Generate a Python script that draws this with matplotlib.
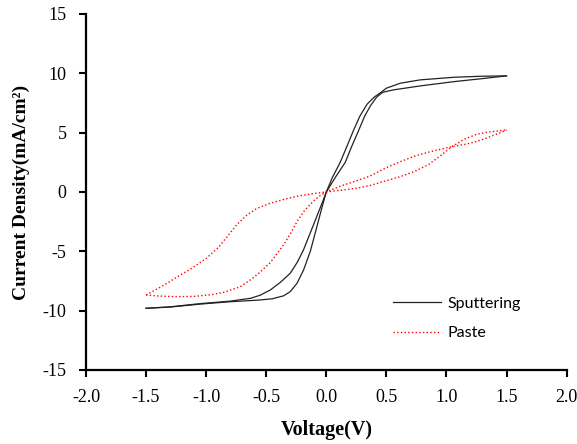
import matplotlib
matplotlib.use("Agg")
import matplotlib.pyplot as plt

# Sputtering loop, steep branch: lower negative side -> origin -> upper plateau
sput_v_a = [-1.5, -1.3, -1.05, -0.8, -0.63, -0.55, -0.45, -0.355, -0.3, -0.244,
            -0.19, -0.133, -0.08, -0.036, 0.0, 0.05, 0.116, 0.17, 0.227, 0.28,
            0.34, 0.4, 0.45, 0.5, 0.616, 0.78, 1.06, 1.3, 1.5]
sput_j_a = [-9.8, -9.7, -9.45, -9.25, -9.15, -9.1, -9.0, -8.75, -8.4, -7.7,
            -6.6, -5.0, -3.0, -1.3, 0.0, 1.2, 2.5, 3.8, 5.2, 6.4,
            7.4, 8.0, 8.35, 8.74, 9.16, 9.44, 9.66, 9.75, 9.78]

# Sputtering loop, shallow branch: tip -> lower plateau -> origin -> upper negative side
sput_v_b = [1.5, 1.3, 1.06, 0.78, 0.56, 0.47, 0.42, 0.37, 0.32, 0.27, 0.21,
            0.158, 0.08, 0.0, -0.022, -0.1, -0.19, -0.24, -0.3, -0.38, -0.466,
            -0.55, -0.63, -0.8, -1.05, -1.3, -1.5]
sput_j_b = [9.78, 9.55, 9.29, 8.93, 8.6, 8.4, 8.0, 7.3, 6.4, 5.2, 3.8,
            2.5, 1.3, 0.0, -0.6, -2.6, -4.89, -5.9, -6.85, -7.6, -8.26,
            -8.7, -8.96, -9.2, -9.41, -9.68, -9.8]

# Paste loop, outer branch
paste_v_a = [-1.5, -1.35, -1.24, -1.13, -1.0, -0.9, -0.82, -0.74, -0.66, -0.58,
             -0.466, -0.35, -0.244, -0.12, 0.0, 0.12, 0.25, 0.366, 0.5, 0.616,
             0.73, 0.85, 0.95, 1.046, 1.15, 1.25, 1.35, 1.5]
paste_j_a = [-8.68, -7.85, -7.15, -6.5, -5.6, -4.7, -3.7, -2.7, -1.94, -1.4,
             -0.95, -0.62, -0.36, -0.16, 0.0, 0.14, 0.31, 0.55, 0.95, 1.29,
             1.71, 2.3, 3.05, 3.82, 4.45, 4.85, 5.05, 5.22]

# Paste loop, inner branch
paste_v_b = [-1.5, -1.41, -1.27, -1.1, -0.95, -0.85, -0.715, -0.63, -0.55, -0.466,
             -0.41, -0.355, -0.3, -0.244, -0.18, -0.105, -0.05, 0.0, 0.12, 0.25,
             0.366, 0.5, 0.616, 0.73, 0.85, 0.95, 1.046, 1.15, 1.25, 1.35, 1.45, 1.5]
paste_j_b = [-8.68, -8.76, -8.82, -8.8, -8.65, -8.45, -7.98, -7.4, -6.75, -5.95,
             -5.2, -4.45, -3.55, -2.5, -1.55, -0.75, -0.3, 0.0, 0.5, 0.93,
             1.35, 2.05, 2.55, 3.0, 3.35, 3.6, 3.82, 4.0, 4.24, 4.6, 5.0, 5.22]

x_ticks = [-2.0, -1.5, -1.0, -0.5, 0.0, 0.5, 1.0, 1.5, 2.0]
y_ticks = [-15, -10, -5, 0, 5, 10, 15]

plt.rcParams['axes.unicode_minus'] = False

fig = plt.figure(figsize=(5.77, 4.44), dpi=100)
ax = fig.add_axes([0.149, 0.1667, 0.833, 0.802])

ax.plot(sput_v_a, sput_j_a, color='#222222', lw=0.9, label='Sputtering')
ax.plot(sput_v_b, sput_j_b, color='#222222', lw=0.9)
ax.plot(paste_v_a, paste_j_a, color='red', lw=1.0, ls=':', label='Paste')
ax.plot(paste_v_b, paste_j_b, color='red', lw=1.0, ls=':')

ax.set_xlim(-2.0, 2.0)
ax.set_ylim(-15, 15)
ax.set_xticks(x_ticks)
ax.set_xticklabels(['%.1f' % v for v in x_ticks])
ax.set_yticks(y_ticks)
ax.set_yticklabels([str(v) for v in y_ticks])

for side in ['top', 'right']:
    ax.spines[side].set_visible(False)
for side in ['left', 'bottom']:
    ax.spines[side].set_linewidth(1.6)

ax.tick_params(axis='both', direction='out', length=5, width=1.5,
               labelsize=13, labelfontfamily='Liberation Serif')
ax.tick_params(axis='x', pad=9)
ax.tick_params(axis='y', pad=9)

ax.set_xlabel('Voltage(V)', fontfamily='Liberation Serif', fontweight='bold',
              fontsize=14.5, labelpad=10)
ax.set_ylabel('Current Density(mA/cm²)', fontfamily='Liberation Serif',
              fontweight='bold', fontsize=14, labelpad=9)

leg = ax.legend(loc='upper left', bbox_to_anchor=(0.681, 0.332),
                bbox_transform=fig.transFigure, frameon=False, borderpad=0,
                borderaxespad=0, handlelength=3.0, handletextpad=0.4,
                labelspacing=0.95, prop={'family': 'Lato', 'size': 11.5})

fig.savefig('out.png', dpi=100)
